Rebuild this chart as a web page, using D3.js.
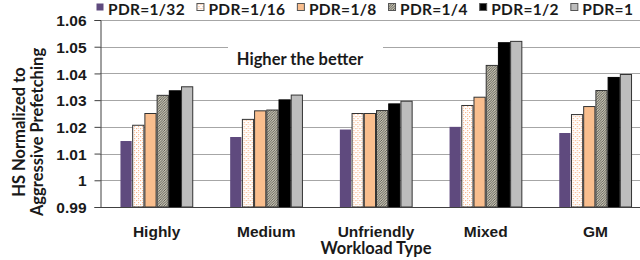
<!DOCTYPE html>
<html>
<head>
<meta charset="utf-8">
<script src="https://cdn.jsdelivr.net/npm/d3@7"></script>
<style>
  body { margin: 0; background: #fff; }
  svg { display: block; font-family: Lato, 'Open Sans', sans-serif; font-weight: bold; }
  .tick text { font-size: 15px; fill: #1a1a1a; }
</style>
</head>
<body>
<svg id="chart" width="640" height="260"></svg>
<script>
// data
const categories = ['Highly', 'Medium', 'Unfriendly', 'Mixed', 'GM'];
const seriesNames = ['PDR=1/32', 'PDR=1/16', 'PDR=1/8', 'PDR=1/4', 'PDR=1/2', 'PDR=1'];
const pdr32 = [1.0147, 1.0162, 1.0190, 1.0200, 1.0177];
const pdr16 = [1.0206, 1.0228, 1.0250, 1.0280, 1.0246];
const pdr8  = [1.0250, 1.0260, 1.0250, 1.0311, 1.0276];
const pdr4  = [1.0318, 1.0263, 1.0261, 1.0430, 1.0336];
const pdr2  = [1.0335, 1.0301, 1.0286, 1.0515, 1.0385];
const pdr1  = [1.0350, 1.0319, 1.0296, 1.0520, 1.0396];
const yTicks = [0.99, 1.00, 1.01, 1.02, 1.03, 1.04, 1.05, 1.06];

const allSeries = [pdr32, pdr16, pdr8, pdr4, pdr2, pdr1];

const svg = d3.select('#chart');

// layout
const padL = 100, padR = 652, padT = 20, padB = 207;

// patterns for the hatched bars
const defs = svg.append('defs');
const dots = defs.append('pattern')
  .attr('id', 'dots').attr('patternUnits', 'userSpaceOnUse')
  .attr('width', 4).attr('height', 4);
dots.append('rect').attr('width', 4).attr('height', 4).attr('fill', '#fff');
dots.append('rect').attr('x', 0).attr('y', 0).attr('width', 1.2).attr('height', 1.2).attr('fill', '#f6b48a');
dots.append('rect').attr('x', 2).attr('y', 2).attr('width', 1.2).attr('height', 1.2).attr('fill', '#f6b48a');
dots.append('rect').attr('x', 2).attr('y', 0).attr('width', 1).attr('height', 1).attr('fill', '#fbd9c2');

const hatch = defs.append('pattern')
  .attr('id', 'hatch').attr('patternUnits', 'userSpaceOnUse')
  .attr('width', 2.5).attr('height', 2.5);
hatch.append('rect').attr('width', 2.5).attr('height', 2.5).attr('fill', '#c4c0b0');
hatch.append('path').attr('d', 'M-1,1 L1,-1 M0,2.5 L2.5,0 M2,3.5 L3.5,2')
  .attr('stroke', '#4a4a44').attr('stroke-width', 0.8);

const fills = ['#5f4a7e', 'url(#dots)', '#f9be8e', 'url(#hatch)', '#000', '#bdbdbd'];
const strokes = ['none', '#333', '#333', '#333', '#000', '#333'];

// scales
const x = d3.scaleBand()
  .domain(categories)
  .range([padL, padR])
  .paddingInner(0.332)
  .paddingOuter(0.182);

const xs = d3.scaleBand()
  .domain(d3.range(seriesNames.length))
  .range([0, x.bandwidth()]);

const y = d3.scaleLinear()
  .domain([0.99, 1.06])
  .range([padB, padT]);

// gridlines
const grid = svg.append('g').attr('class', 'grid');
grid.selectAll('line').data(yTicks.slice(1))
  .join('line')
  .attr('x1', padL).attr('x2', 640)
  .attr('y1', d => Math.round(y(d)) + 0.5).attr('y2', d => Math.round(y(d)) + 0.5)
  .attr('stroke', '#a6a6a6').attr('stroke-width', 1);

// "Higher the better" box (white, hides the gridline under it)
svg.append('rect')
  .attr('x', 228).attr('y', 36).attr('width', 155).attr('height', 33)
  .attr('fill', '#fff');
svg.append('text')
  .attr('x', 300).attr('y', 65)
  .attr('text-anchor', 'middle')
  .style('font-size', '16.5px')
  .attr('fill', '#1a1a1a')
  .text('Higher the better');

// bars
const groups = svg.append('g').attr('class', 'bars')
  .selectAll('g').data(categories)
  .join('g')
  .attr('transform', d => `translate(${x(d)},0)`);

groups.selectAll('rect')
  .data((c, ci) => allSeries.map((s, si) => ({ si, v: s[ci] })))
  .join('rect')
  .attr('x', d => xs(d.si) + 0.5)
  .attr('y', d => y(d.v))
  .attr('width', xs.bandwidth() - 1)
  .attr('height', d => y(0.99) - y(d.v))
  .attr('fill', d => fills[d.si])
  .attr('stroke', d => strokes[d.si])
  .attr('stroke-width', 1);

// axes
const yAxis = d3.axisLeft(y)
  .tickValues(yTicks)
  .tickFormat(d => d === 1 ? '1' : d3.format('.2f')(d))
  .tickSize(6)
  .tickPadding(8);

const gy = svg.append('g')
  .attr('transform', `translate(${padL + 0.5},0)`)
  .call(yAxis);
gy.selectAll('.domain').attr('stroke', '#404040');
gy.selectAll('.tick line').attr('stroke', '#404040');
gy.selectAll('.tick text').attr('dy', '0.36em').style('font-size', '15.5px');

const xAxis = d3.axisBottom(x).tickSize(0).tickPadding(18);
const gx = svg.append('g')
  .attr('transform', `translate(0,${padB + 0.5})`)
  .call(xAxis);
gx.select('.domain').attr('d', `M${padL},0H640`).attr('stroke', '#404040');
gx.selectAll('.tick text').style('font-size', '15.5px');

// axis titles
svg.append('text')
  .attr('x', x('Unfriendly') + x.bandwidth() / 2)
  .attr('y', 254)
  .attr('text-anchor', 'middle')
  .style('font-size', '16.5px')
  .attr('fill', '#1a1a1a')
  .text('Workload Type');

const yTitle = svg.append('text')
  .attr('transform', 'translate(0,132) rotate(-90)')
  .attr('text-anchor', 'middle')
  .style('font-size', '16.5px')
  .attr('fill', '#1a1a1a');
yTitle.append('tspan').attr('x', 0).attr('y', 25).text('HS Normalized to');
yTitle.append('tspan').attr('x', 0).attr('y', 43).text('Aggressive Prefetching');

// legend
const legend = svg.append('g').attr('class', 'legend');
let lx = 96;
seriesNames.forEach((name, i) => {
  const item = legend.append('g').attr('transform', `translate(${lx},0)`);
  item.append('rect')
    .attr('x', 0.5).attr('y', 3.5).attr('width', 7).attr('height', 7)
    .attr('fill', fills[i])
    .attr('stroke', i === 0 ? 'none' : '#555');
  const t = item.append('text')
    .attr('x', 12).attr('y', 15)
    .style('font-size', '15.5px')
    .style('letter-spacing', '0.3px')
    .attr('fill', '#1a1a1a')
    .text(name);
  lx += 12 + t.node().getComputedTextLength() + 11.5;
});
</script>
</body>
</html>
